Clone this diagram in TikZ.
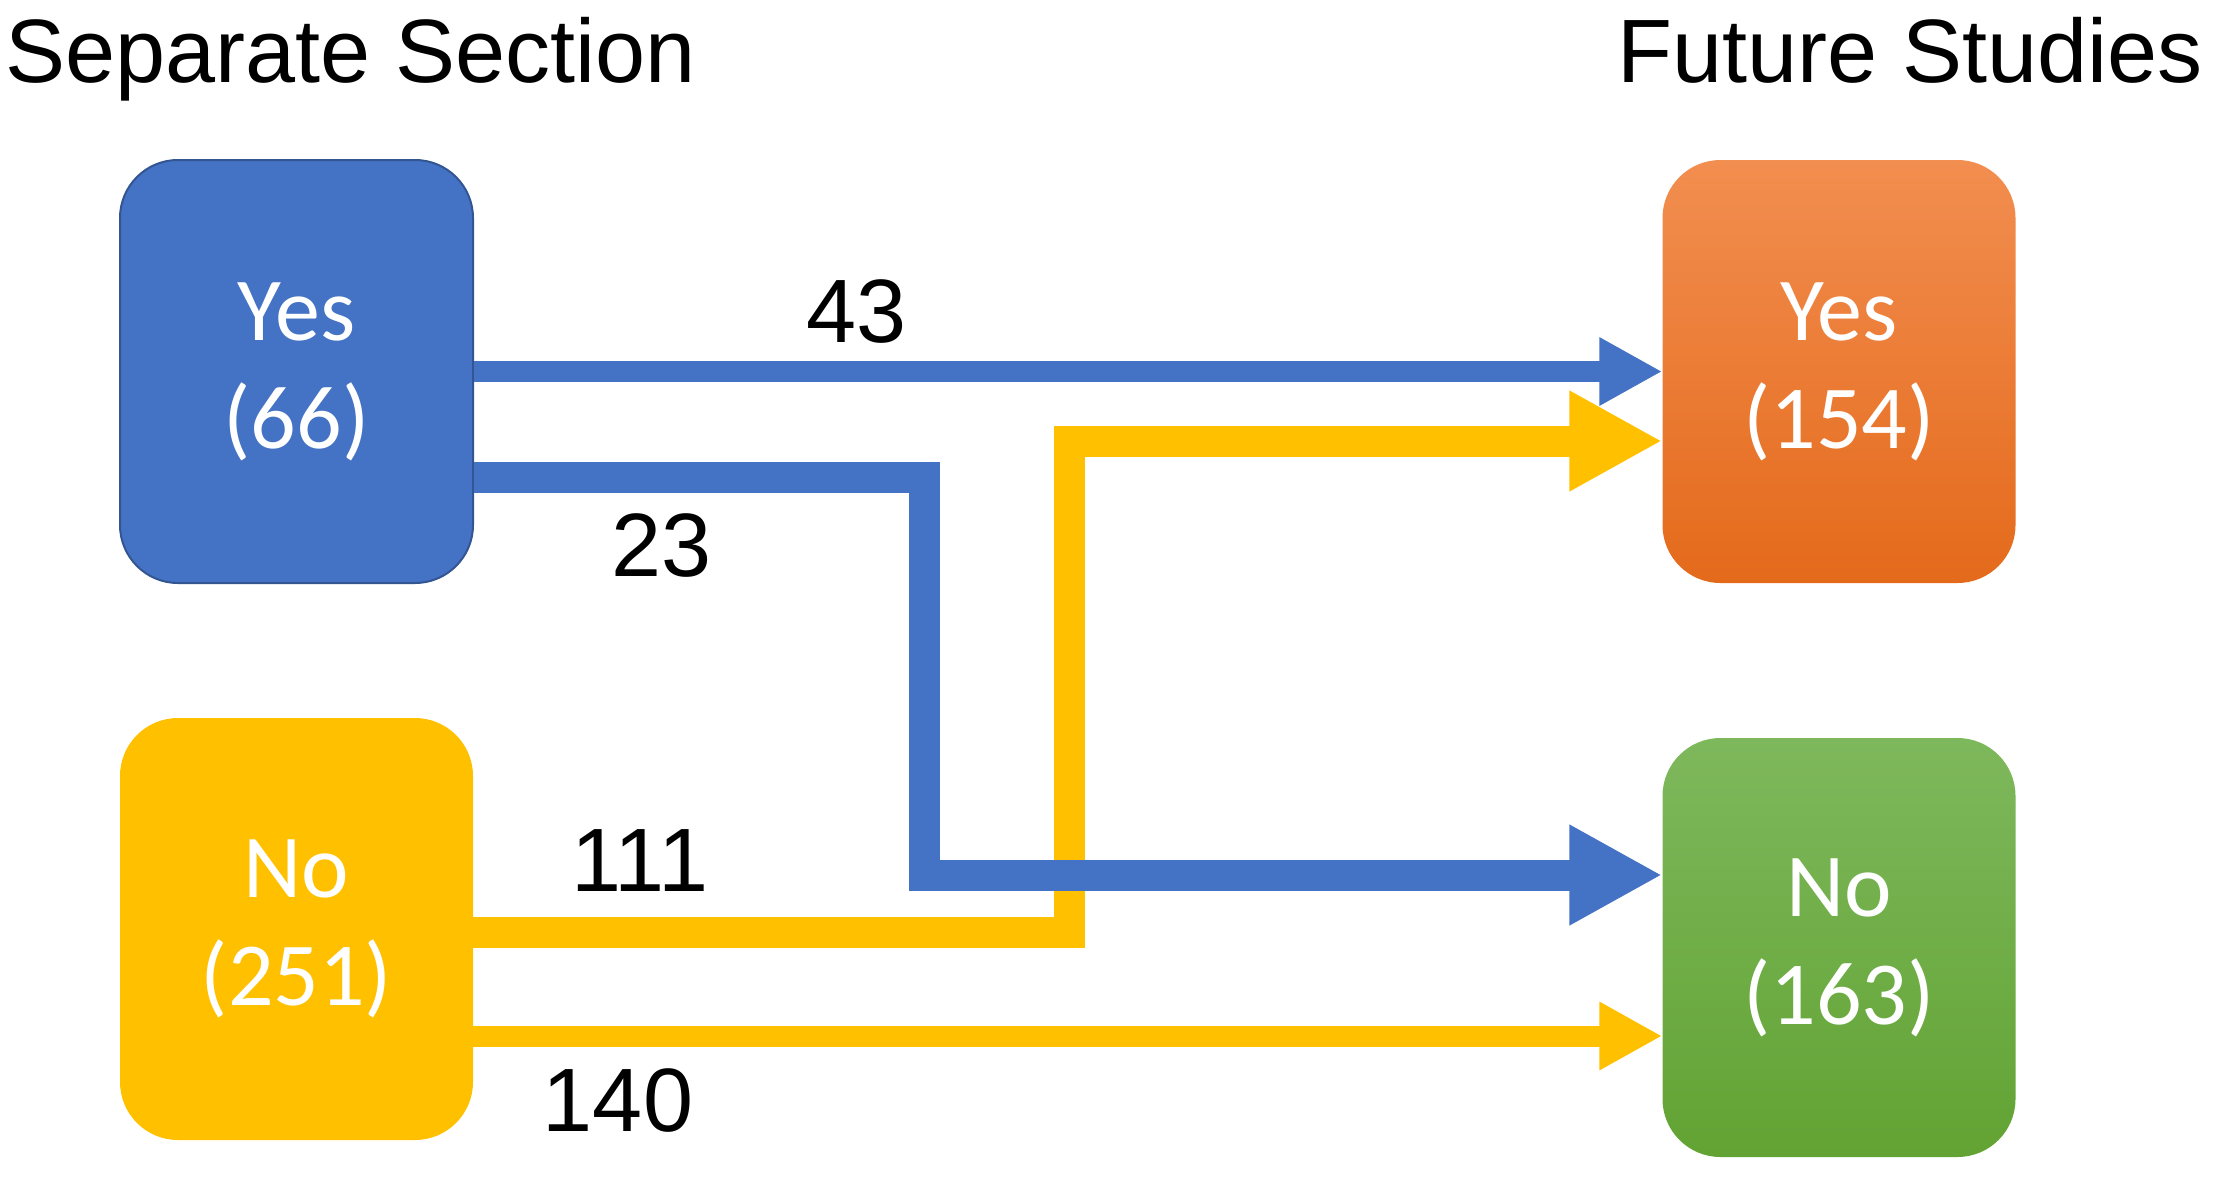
\documentclass[tikz,border=0pt]{standalone}
\usepackage{fontspec}
\setmainfont{Liberation Sans}
\newfontfamily\boxfont{Carlito}
\usepackage{tikz}
\usetikzlibrary{arrows.meta}
\definecolor{sepblue}{HTML}{4472C4}
\definecolor{sepyellow}{HTML}{FFC000}
\definecolor{futorangetop}{HTML}{F28E50}
\definecolor{futorangebot}{HTML}{E46A1B}
\definecolor{futgreentop}{HTML}{7EB85C}
\definecolor{futgreenbot}{HTML}{62A333}

\begin{document}
\begin{tikzpicture}[x=1pt, y=-1pt,
  group/.style={rounded corners=58pt, minimum width=353pt, minimum height=#1, inner sep=0pt, align=center, text=white, font=\boxfont\fontsize{90}{108}\selectfont},
  heading/.style={inner sep=0pt, font=\fontsize{90}{100}\selectfont},
  count/.style={inner sep=0pt, font=\fontsize{90}{100}\selectfont},
  thinflow/.style={draw=#1, line width=21pt, -{Triangle[length=63pt,width=64pt]}},
  thickflow/.style={draw=#1, line width=31pt, line join=miter, -{Triangle[length=93pt,width=94pt]}}
]
  \useasboundingbox (0,0) rectangle (2217,1178);

  % column headings
  \node[heading, anchor=base west] (sstitle) at (5,82) {Separate Section};
  \node[heading, anchor=base east] (fstitle) at (2203,82) {Future Studies};

  % answer boxes
  \node[group=423pt, fill=sepblue, draw=sepblue!75!black, line width=2pt] (ssyes) at (296.5,371.5) {Yes\\(66)};
  \node[group=422pt, fill=sepyellow] (ssno) at (296.5,929) {No\\(251)};
  \node[group=423pt, top color=futorangetop, bottom color=futorangebot] (fsyes) at (1839,371.5) {Yes\\(154)};
  \node[group=419pt, top color=futgreentop, bottom color=futgreenbot] (fsno) at (1839,947.5) {No\\(163)};

  % flows
  \draw[thinflow=sepblue] (ssyes.east) -- (fsyes.west);
  \draw[thickflow=sepyellow] ([yshift=-3pt]ssno.east) -- ++(596pt,0) |- ([yshift=-69.5pt]fsyes.west);
  \draw[thickflow=sepblue] ([yshift=-105.5pt]ssyes.east) -- ++(450pt,0) |- ([yshift=72.5pt]fsno.west);
  \draw[thinflow=sepyellow] ([yshift=-107pt]ssno.east) -- ([yshift=-88.5pt]fsno.west);

  % counts
  \node[count] (n43) at (857,312) {43};
  \node[count] (n23) at (662,546) {23};
  \node[count] (n111) at (640,861) {111};
  \node[count] (n140) at (618,1101) {140};
\end{tikzpicture}
\end{document}
